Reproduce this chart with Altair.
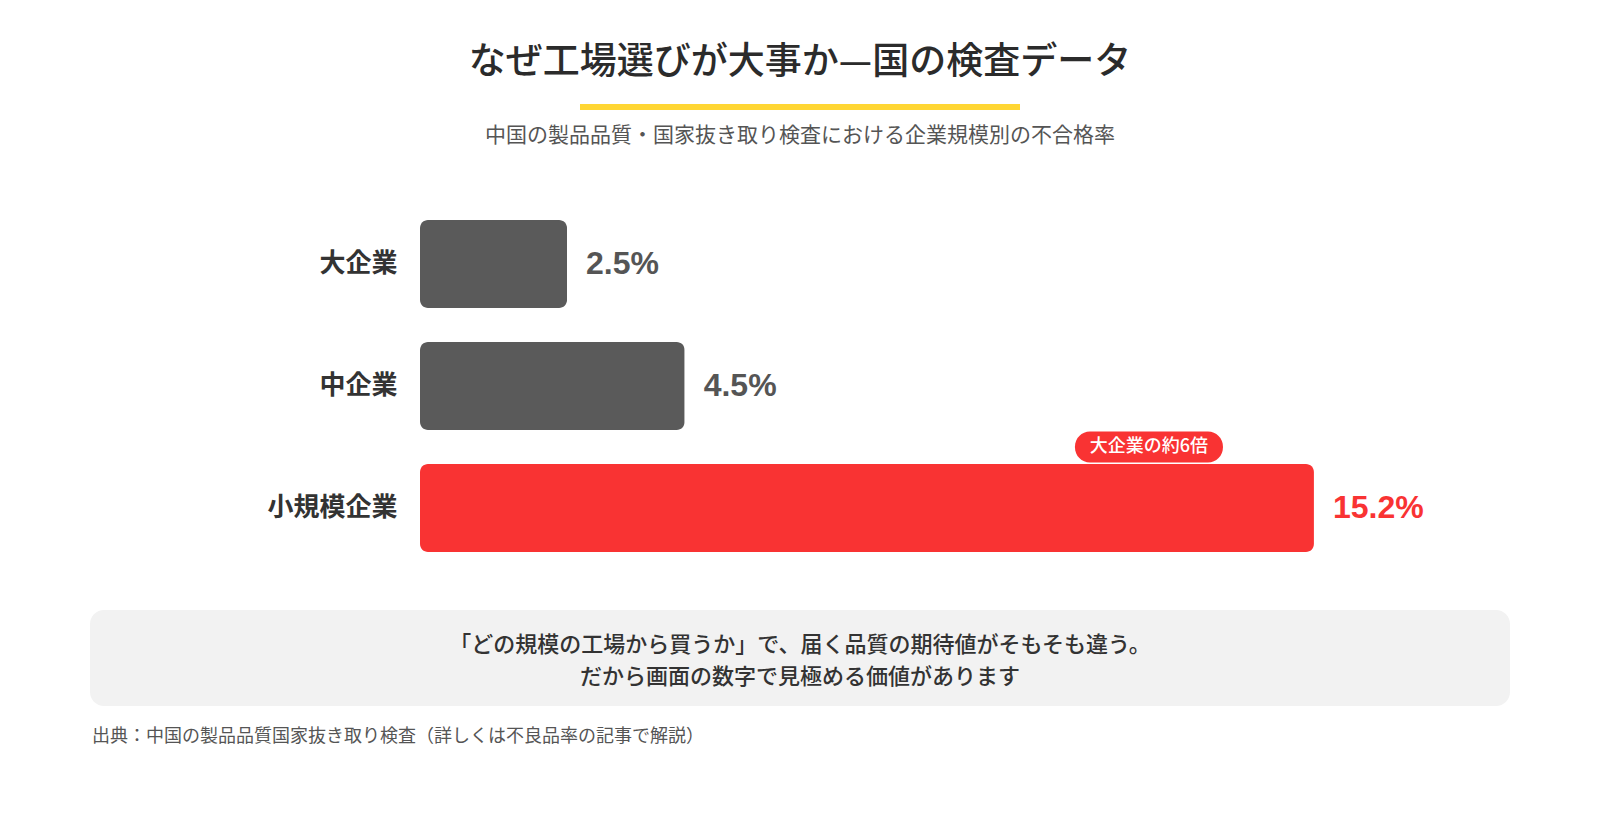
import altair as alt
import pandas as pd

# data
categories = ["大企業", "中企業", "小規模企業"]
fail_rates = [2.5, 4.5, 15.2]
highlight = "小規模企業"

title_text = "なぜ工場選びが大事か—国の検査データ"
subtitle_text = "中国の製品品質・国家抜き取り検査における企業規模別の不合格率"
badge_text = "大企業の約6倍"
note_line1 = "「どの規模の工場から買うか」で、届く品質の期待値がそもそも違う。"
note_line2 = "だから画面の数字で見極める価値があります"
source_text = "出典：中国の製品品質国家抜き取り検査（詳しくは不良品率の記事で解説）"

JP = "Noto Sans CJK JP"
NUM = "Liberation Sans, Arial, Noto Sans CJK JP"
RED = "#f93333"
GRAY = "#5a5a5a"

df = pd.DataFrame({"category": categories, "rate": fail_rates})

base = alt.Chart(df).transform_calculate(
    label="format(datum.rate, '.1f') + '%'"
)

y_enc = alt.Y(
    "category:N",
    sort=categories,
    title=None,
    scale=alt.Scale(paddingInner=0.28, paddingOuter=0.14),
    axis=alt.Axis(
        domain=False,
        ticks=False,
        labelPadding=23,
        labelFont=JP,
        labelFontSize=26,
        labelFontWeight="bold",
        labelColor="#333333",
    ),
)
x_enc = alt.X("rate:Q", scale=alt.Scale(domain=[0, 16]), axis=None)
is_hi = alt.datum.category == highlight

bars = base.mark_bar(cornerRadius=8).encode(
    x=x_enc,
    y=y_enc,
    color=alt.condition(is_hi, alt.value(RED), alt.value(GRAY)),
)

values = base.mark_text(
    align="left", baseline="middle", dx=19, font=NUM, fontSize=32, fontWeight="bold"
).encode(
    x="rate:Q",
    y=alt.Y("category:N", sort=categories),
    text="label:N",
    color=alt.condition(is_hi, alt.value(RED), alt.value("#555555")),
)

# badge over the highlighted bar
badge_bg = (
    base.transform_filter(is_hi)
    .mark_bar(height=31, cornerRadius=15, xOffset=-239, x2Offset=-91, yOffset=-61, color=RED)
    .encode(x="rate:Q", x2="rate:Q", y=alt.Y("category:N", sort=categories))
)
badge = (
    base.transform_filter(is_hi)
    .mark_text(
        text=badge_text, dx=-165, dy=-61, align="center", baseline="middle",
        font=JP, fontSize=18, fontWeight=500, color="white",
    )
    .encode(x="rate:Q", y=alt.Y("category:N", sort=categories))
)

one = pd.DataFrame({"k": [0]})


def text_at(text, x, y, size, weight="normal", color="#333333", align="center"):
    return alt.Chart(one).mark_text(
        text=text, align=align, baseline="middle",
        font=JP, fontSize=size, fontWeight=weight, color=color,
    ).encode(x=alt.value(x), y=alt.value(y))


title = text_at(title_text, 380, -140, 37, 500, "#2b2b2b")
subtitle = text_at(subtitle_text, 380, -67, 21, "normal", "#555555")

underline = alt.Chart(one).mark_rect(color="#ffd633").encode(
    x=alt.value(160), x2=alt.value(600), y=alt.value(-99), y2=alt.value(-93)
)

note_box = alt.Chart(one).mark_rect(color="#f2f2f2", cornerRadius=14).encode(
    x=alt.value(-330), x2=alt.value(1090), y=alt.value(407), y2=alt.value(503)
)
note1 = text_at(note_line1, 380, 442, 22, 500)
note2 = text_at(note_line2, 380, 474, 22, 500)

source = text_at(source_text, -328, 534, 18, "normal", "#555555", align="left")

chart = (
    alt.layer(note_box, bars, values, badge_bg, badge, title, underline, subtitle,
              note1, note2, source)
    .properties(
        width=941,
        height=366,
        autosize=alt.AutoSizeParams(type="none"),
        padding={"left": 412, "top": 195, "right": 231, "bottom": 243},
        background="white",
    )
    .configure_view(stroke=None)
)

chart.save("out.html", embed_options={"renderer": "svg", "actions": False})
